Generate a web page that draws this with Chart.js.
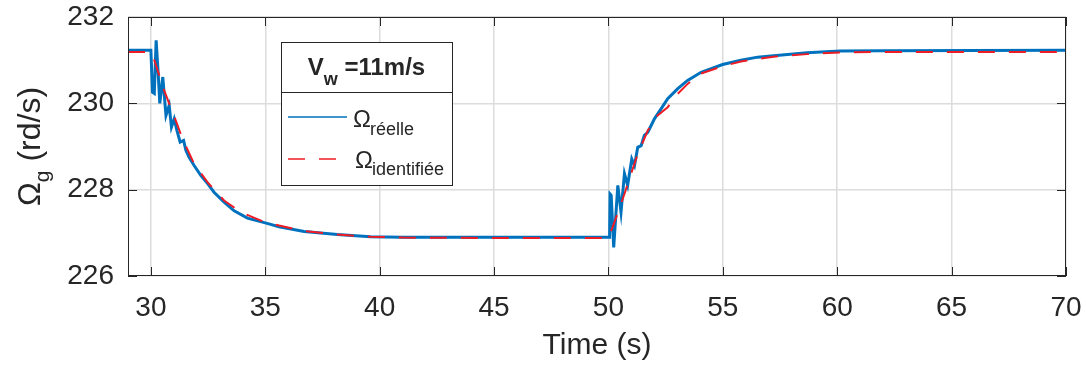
<!DOCTYPE html>
<html>
<head>
<meta charset="utf-8">
<script src="https://cdn.jsdelivr.net/npm/chart.js@4"></script>
<style>
    html, body { margin: 0; padding: 0; background: #ffffff; }
    canvas { display: block; }
</style>
</head>
<body>
<canvas id="grafico" width="1086" height="374"></canvas>
<script>
// valeurs
const tempsReelle = [29, 30.0, 30.07, 30.15, 30.23, 30.32, 30.39, 30.52, 30.66, 30.80, 30.90, 31.02, 31.14, 31.28, 31.43, 31.53, 31.67, 31.89,
    32.18, 32.48, 32.76, 33.2, 33.64, 34.22, 35.0, 35.6, 36.7, 38.15, 39.6, 41, 45, 50.05,
    50.07, 50.12, 50.23, 50.41, 50.55, 50.70, 50.84, 51.02, 51.14, 51.28, 51.43, 51.57, 51.72, 52.01, 52.30, 52.59,
    53.03, 53.46, 54.05, 54.99, 55.79, 56.52, 57.22, 58.68, 60.13, 62, 70];
const omegaReelle = [231.23, 231.23, 230.26, 230.23, 231.46, 230.69, 230.00, 230.61, 229.72, 229.95, 229.45, 229.64, 229.37, 229.10, 229.14, 228.91, 228.75, 228.56,
    228.33, 228.14, 227.94, 227.71, 227.51, 227.34, 227.23, 227.14, 227.03, 226.96, 226.91, 226.90, 226.90, 226.90,
    227.90, 227.87, 226.66, 228.10, 227.48, 228.37, 228.10, 228.71, 228.56, 228.98, 229.02, 229.26, 229.33, 229.64, 229.87, 230.11,
    230.34, 230.53, 230.72, 230.90, 231.00, 231.07, 231.10, 231.17, 231.21, 231.22, 231.23];

const tempsIdent = [29, 30.0, 30.15, 30.58, 31.09, 31.38, 31.89, 32.48, 33.2, 33.93, 35.0, 36.7, 38.15, 39.6, 41, 45, 50.0,
    50.26, 50.70, 50.99, 51.28, 51.72, 52.15, 52.59, 53.03, 53.46, 54.05, 54.99, 55.79, 56.52, 57.22, 58.68, 60.13, 62, 70];
const omegaIdent = [231.19, 231.19, 231.00, 230.30, 229.60, 229.18, 228.60, 228.17, 227.75, 227.48, 227.24, 227.04, 226.96, 226.91, 226.89, 226.88, 226.88,
    227.24, 227.90, 228.37, 228.83, 229.37, 229.72, 229.91, 230.22, 230.45, 230.69, 230.86, 230.97, 231.03, 231.08, 231.14, 231.18, 231.19, 231.19];

const ticksTemps = [30, 35, 40, 45, 50, 55, 60, 65, 70];
const ticksOmega = [226, 228, 230, 232];

const corTexto = '#262626';
const fonte = "'Liberation Sans', Arial, Helvetica, sans-serif";

function pontos(xs, ys) {
    return xs.map((x, i) => ({ x: x, y: ys[i] }));
}

// cadre, ticks internes, titre Y et légende
const moldura = {
    id: 'moldura',
    afterDraw(chart) {
        const ctx = chart.ctx;
        const a = chart.chartArea;
        const sx = chart.scales.x, sy = chart.scales.y;
        ctx.save();
        ctx.strokeStyle = corTexto;
        ctx.lineWidth = 1;
        ctx.beginPath();
        ticksTemps.forEach(v => {
            const px = Math.round(sx.getPixelForValue(v)) + 0.5;
            ctx.moveTo(px, a.bottom); ctx.lineTo(px, a.bottom - 9);
            ctx.moveTo(px, a.top); ctx.lineTo(px, a.top + 9);
        });
        ticksOmega.forEach(v => {
            const py = Math.round(sy.getPixelForValue(v)) + 0.5;
            ctx.moveTo(a.left, py); ctx.lineTo(a.left + 9, py);
            ctx.moveTo(a.right, py); ctx.lineTo(a.right - 9, py);
        });
        ctx.stroke();
        ctx.strokeRect(Math.round(a.left) + 0.5, Math.round(a.top) + 0.5,
            Math.round(a.right - a.left) - 1, Math.round(a.bottom - a.top) - 1);

        // titre de l'axe Y : Omega_g (rd/s)
        ctx.fillStyle = corTexto;
        ctx.translate(40, (a.top + a.bottom) / 2);
        ctx.rotate(-Math.PI / 2);
        ctx.textBaseline = 'alphabetic';
        ctx.textAlign = 'left';
        ctx.font = '32px ' + fonte;
        const w1 = ctx.measureText('\u03A9').width;
        const w3 = ctx.measureText(' (rd/s)').width;
        ctx.font = '21px ' + fonte;
        const w2 = ctx.measureText('g').width;
        let x0 = -(w1 + w2 + w3) / 2;
        ctx.font = '32px ' + fonte;
        ctx.fillText('\u03A9', x0, 0);
        ctx.font = '21px ' + fonte;
        ctx.fillText('g', x0 + w1, 9);
        ctx.font = '32px ' + fonte;
        ctx.fillText(' (rd/s)', x0 + w1 + w2, 0);
        ctx.restore();

        // légende
        ctx.save();
        const bx = 281, by = 42, bw = 171, bh = 143;
        ctx.fillStyle = '#ffffff';
        ctx.fillRect(bx, by, bw, bh);
        ctx.strokeStyle = corTexto;
        ctx.lineWidth = 1;
        ctx.strokeRect(bx + 0.5, by + 0.5, bw, bh);
        ctx.beginPath();
        ctx.moveTo(bx, 92.5); ctx.lineTo(bx + bw, 92.5);
        ctx.stroke();

        ctx.fillStyle = corTexto;
        ctx.textAlign = 'left';
        ctx.textBaseline = 'alphabetic';
        ctx.font = 'bold 24px ' + fonte;
        const tV = ctx.measureText('V').width;
        const tR = ctx.measureText(' =11m/s').width;
        ctx.font = 'bold 18px ' + fonte;
        const tW = ctx.measureText('w').width;
        let tx = bx + bw / 2 - (tV + tW + tR) / 2;
        ctx.font = 'bold 24px ' + fonte;
        ctx.fillText('V', tx, 75);
        ctx.font = 'bold 18px ' + fonte;
        ctx.fillText('w', tx + tV, 85);
        ctx.font = 'bold 24px ' + fonte;
        ctx.fillText(' =11m/s', tx + tV + tW, 75);

        ctx.lineWidth = 1.5;
        ctx.strokeStyle = '#0072BD';
        ctx.beginPath();
        ctx.moveTo(288, 117); ctx.lineTo(347, 117);
        ctx.stroke();
        ctx.strokeStyle = '#ee1c25';
        ctx.setLineDash([17, 14]);
        ctx.beginPath();
        ctx.moveTo(288, 159); ctx.lineTo(341, 159);
        ctx.stroke();
        ctx.setLineDash([]);

        ctx.font = '24px ' + fonte;
        ctx.fillText('\u03A9', 353, 127);
        ctx.fillText('\u03A9', 355, 168);
        ctx.font = '18px ' + fonte;
        ctx.fillText('réelle', 370, 135);
        ctx.fillText('identifiée', 372, 175);
        ctx.restore();
    }
};

new Chart(document.getElementById('grafico').getContext('2d'), {
    type: 'line',
    data: {
        datasets: [{
            label: 'Ω réelle',
            data: pontos(tempsReelle, omegaReelle),
            borderColor: '#0072BD',
            borderWidth: 3,
            pointRadius: 0,
            tension: 0,
            order: 1
        },
        {
            label: 'Ω identifiée',
            data: pontos(tempsIdent, omegaIdent),
            borderColor: '#ee1c25',
            borderWidth: 2,
            borderDash: [17, 14],
            pointRadius: 0,
            tension: 0,
            order: 0
        }]
    },
    options: {
        responsive: false,
        animation: false,
        devicePixelRatio: 1,
        layout: {
            padding: { top: 17, right: 20, left: 0, bottom: 0 }
        },
        plugins: {
            legend: { display: false },
            tooltip: { enabled: false }
        },
        scales: {
            x: {
                type: 'linear',
                min: 29,
                max: 70,
                afterBuildTicks: s => { s.ticks = ticksTemps.map(v => ({ value: v })); },
                afterFit: s => { s.height = 98; s.paddingLeft = 0; s.paddingRight = 0; },
                grid: { color: '#dcdcdc', lineWidth: 1.5, drawTicks: false },
                border: { display: false },
                ticks: {
                    padding: 15,
                    color: corTexto,
                    maxRotation: 0,
                    autoSkip: false,
                    font: { family: fonte, size: 28 }
                },
                title: {
                    display: true,
                    text: 'Time (s)',
                    color: corTexto,
                    font: { family: fonte, size: 30 },
                    padding: { top: 0, bottom: 10 }
                }
            },
            y: {
                min: 226,
                max: 232,
                afterBuildTicks: s => { s.ticks = ticksOmega.map(v => ({ value: v })); },
                afterFit: s => { s.width = 128; s.paddingTop = 0; s.paddingBottom = 0; },
                grid: { color: '#dcdcdc', lineWidth: 1.5, drawTicks: false },
                border: { display: false },
                ticks: {
                    padding: 14,
                    color: corTexto,
                    font: { family: fonte, size: 28 }
                }
            }
        }
    },
    plugins: [moldura]
});
</script>
</body>
</html>
